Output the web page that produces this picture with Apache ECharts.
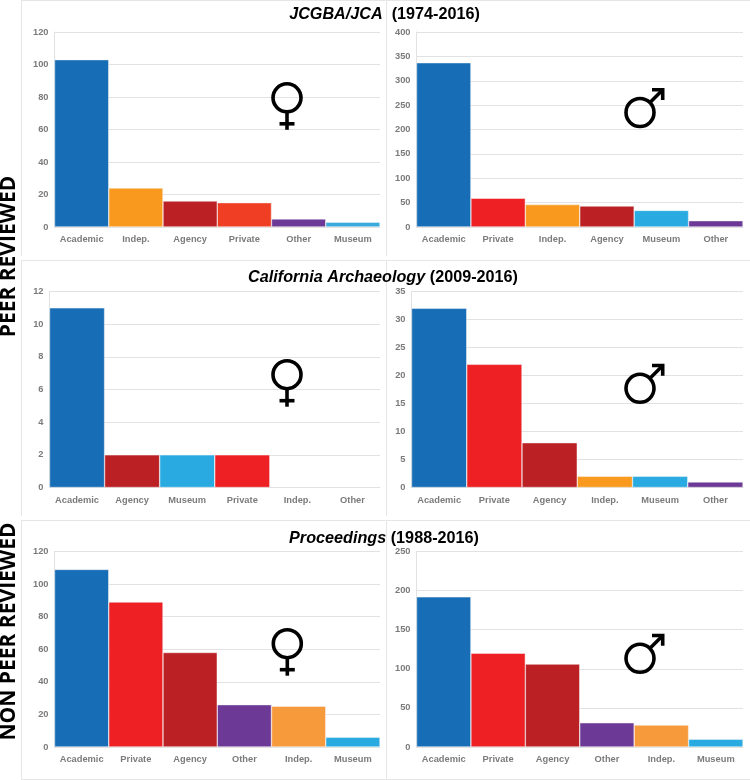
<!DOCTYPE html>
<html><head><meta charset="utf-8">
<style>html,body{margin:0;padding:0;background:#fff}#c{width:750px;height:780px}</style>
<script src="https://cdn.jsdelivr.net/npm/echarts@6/dist/echarts.min.js"></script>
</head><body><div id="c"></div>
<script>
const catsJcaF = ['Academic','Indep.','Agency','Private','Other','Museum'];
const valsJcaF = [103,24,16,15,5,3];
const catsJcaM = ['Academic','Private','Indep.','Agency','Museum','Other'];
const valsJcaM = [337,59,46,43,34,13];
const catsCaF = ['Academic','Agency','Museum','Private','Indep.','Other'];
const valsCaF = [11,2,2,2,0,0];
const catsCaM = ['Academic','Private','Agency','Indep.','Museum','Other'];
const valsCaM = [32,22,8,2,2,1];
const catsProF = ['Academic','Private','Agency','Other','Indep.','Museum'];
const valsProF = [109,89,58,26,25,6];
const catsProM = ['Academic','Private','Agency','Other','Indep.','Museum'];
const valsProM = [192,120,106,31,28,10];

const colors = {Academic:'#176eb7',Private:'#ee2024',Agency:'#bb2025','Indep.':'#f99a1e',Museum:'#29abe2',Other:'#6d3996'};

const panels = [
 {c:catsJcaF,v:valsJcaF,max:120,step:20,l:54.5,r:380,t:32,b:227,over:{Private:'#ef3e23',Museum:'#3aaadd'},sym:'f',sx:287,sy:97.8},
 {c:catsJcaM,v:valsJcaM,max:400,step:50,l:416.5,r:743,t:32,b:227,over:{},sym:'m',sx:640,sy:112.5},
 {c:catsCaF,v:valsCaF,max:12,step:2,l:49.5,r:380,t:291.5,b:487.5,over:{},sym:'f',sx:287,sy:374.7},
 {c:catsCaM,v:valsCaM,max:35,step:5,l:411.5,r:743,t:291.5,b:487.5,over:{},sym:'m',sx:640,sy:388.3},
 {c:catsProF,v:valsProF,max:120,step:20,l:54.5,r:380,t:551.5,b:747,over:{'Indep.':'#f79a3b'},sym:'f',sx:287.3,sy:643.7},
 {c:catsProM,v:valsProM,max:250,step:50,l:416.5,r:743,t:551.5,b:747,over:{'Indep.':'#f79a3b'},sym:'m',sx:640,sy:658.3}
];
const labelFont = {color:'#7b7b7b',fontFamily:'"Liberation Sans"',fontWeight:'bold',fontSize:9.3};
const lineCol = '#e2e2e2';
const W=750,H=780;

const frameLines = [
 [21,0.5,750,0.5],[21,260.5,750,260.5],[21,520.5,750,520.5],[21,779.5,750,779.5],
 [21.5,0,21.5,256],[21.5,260,21.5,516],[21.5,520,21.5,780],
 [386.5,0,386.5,256],[386.5,260,386.5,516],[386.5,520,386.5,780]
];
const titles = [
 {it:'JCGBA/JCA',rest:'  (1974-2016)',x:384.5,y:16},
 {it:'California Archaeology',rest:' (2009-2016)',x:383,y:279},
 {it:'Proceedings',rest:' (1988-2016)',x:384,y:540}
];
const ink = {stroke:'#000',lineWidth:3.6,fill:null};
const ring = () => ({type:'circle',z:50,shape:{cx:0,cy:0,r:14},style:ink});
const seg = (a,b,c,d) => ({type:'line',z:50,shape:{x1:a,y1:b,x2:c,y2:d},style:ink});
const genderIcon = {
 f:()=>[ring(),seg(0,14,0,32),seg(-7.5,26,7.5,26)],
 m:()=>[ring(),seg(10,-10,22.5,-22.5),
   {type:'polyline',z:50,shape:{points:[[12,-22.8],[22.7,-22.8],[22.7,-12.5]]},style:Object.assign({lineJoin:'miter'},ink)}]
};

const option = {
 backgroundColor:'#fff',animation:false,
 title:titles.map(t=>({
   text:'{i|'+t.it+'}{b|'+t.rest+'}',left:t.x,top:t.y-9,textAlign:'center',padding:0,
   textStyle:{rich:{
     i:{fontFamily:'"Liberation Sans"',fontWeight:'bold',fontStyle:'italic',fontSize:16.2,color:'#000'},
     b:{fontFamily:'"Liberation Sans"',fontWeight:'bold',fontSize:16.2,color:'#000'}}}
 })),
 grid:panels.map(p=>({left:p.l,right:W-p.r,top:p.t,bottom:H-p.b,containLabel:false})),
 xAxis:panels.map((p,i)=>({gridIndex:i,type:'category',data:p.c,
   axisTick:{show:false},axisLine:{lineStyle:{color:lineCol}},
   axisLabel:Object.assign({margin:8,interval:0},labelFont)})),
 yAxis:panels.map((p,i)=>({gridIndex:i,type:'value',min:0,max:p.max,interval:p.step,
   axisTick:{show:false},axisLine:{show:true,lineStyle:{color:lineCol}},
   splitLine:{lineStyle:{color:lineCol}},
   axisLabel:Object.assign({margin:6},labelFont)})),
 series:panels.map((p,i)=>({type:'bar',xAxisIndex:i,yAxisIndex:i,barCategoryGap:'0%',barWidth:'100%',
   data:p.v.map((v,j)=>({value:v,itemStyle:{color:p.over[p.c[j]]||colors[p.c[j]],borderColor:'#f4f4f4',borderWidth:v?0.5:0}}))})),
 graphic:[
  ...frameLines.map(s=>({type:'line',silent:true,z:0,shape:{x1:s[0],y1:s[1],x2:s[2],y2:s[3]},style:{stroke:'#e6e6e6',lineWidth:1}})),
  {type:'text',silent:true,x:9,y:256.5,rotation:Math.PI/2,style:{text:'PEER REVIEWED',fill:'#000',font:'bold 21px "Open Sans"',align:'center',verticalAlign:'middle'}},
  {type:'text',silent:true,x:9,y:631.5,rotation:Math.PI/2,style:{text:'NON PEER REVIEWED',fill:'#000',font:'bold 21px "Open Sans"',align:'center',verticalAlign:'middle'}},
  ...panels.map(p=>({type:'group',silent:true,x:p.sx,y:p.sy,children:genderIcon[p.sym]()}))
 ]
};
echarts.init(document.getElementById('c'),null,{renderer:'canvas'}).setOption(option);
</script></body></html>
